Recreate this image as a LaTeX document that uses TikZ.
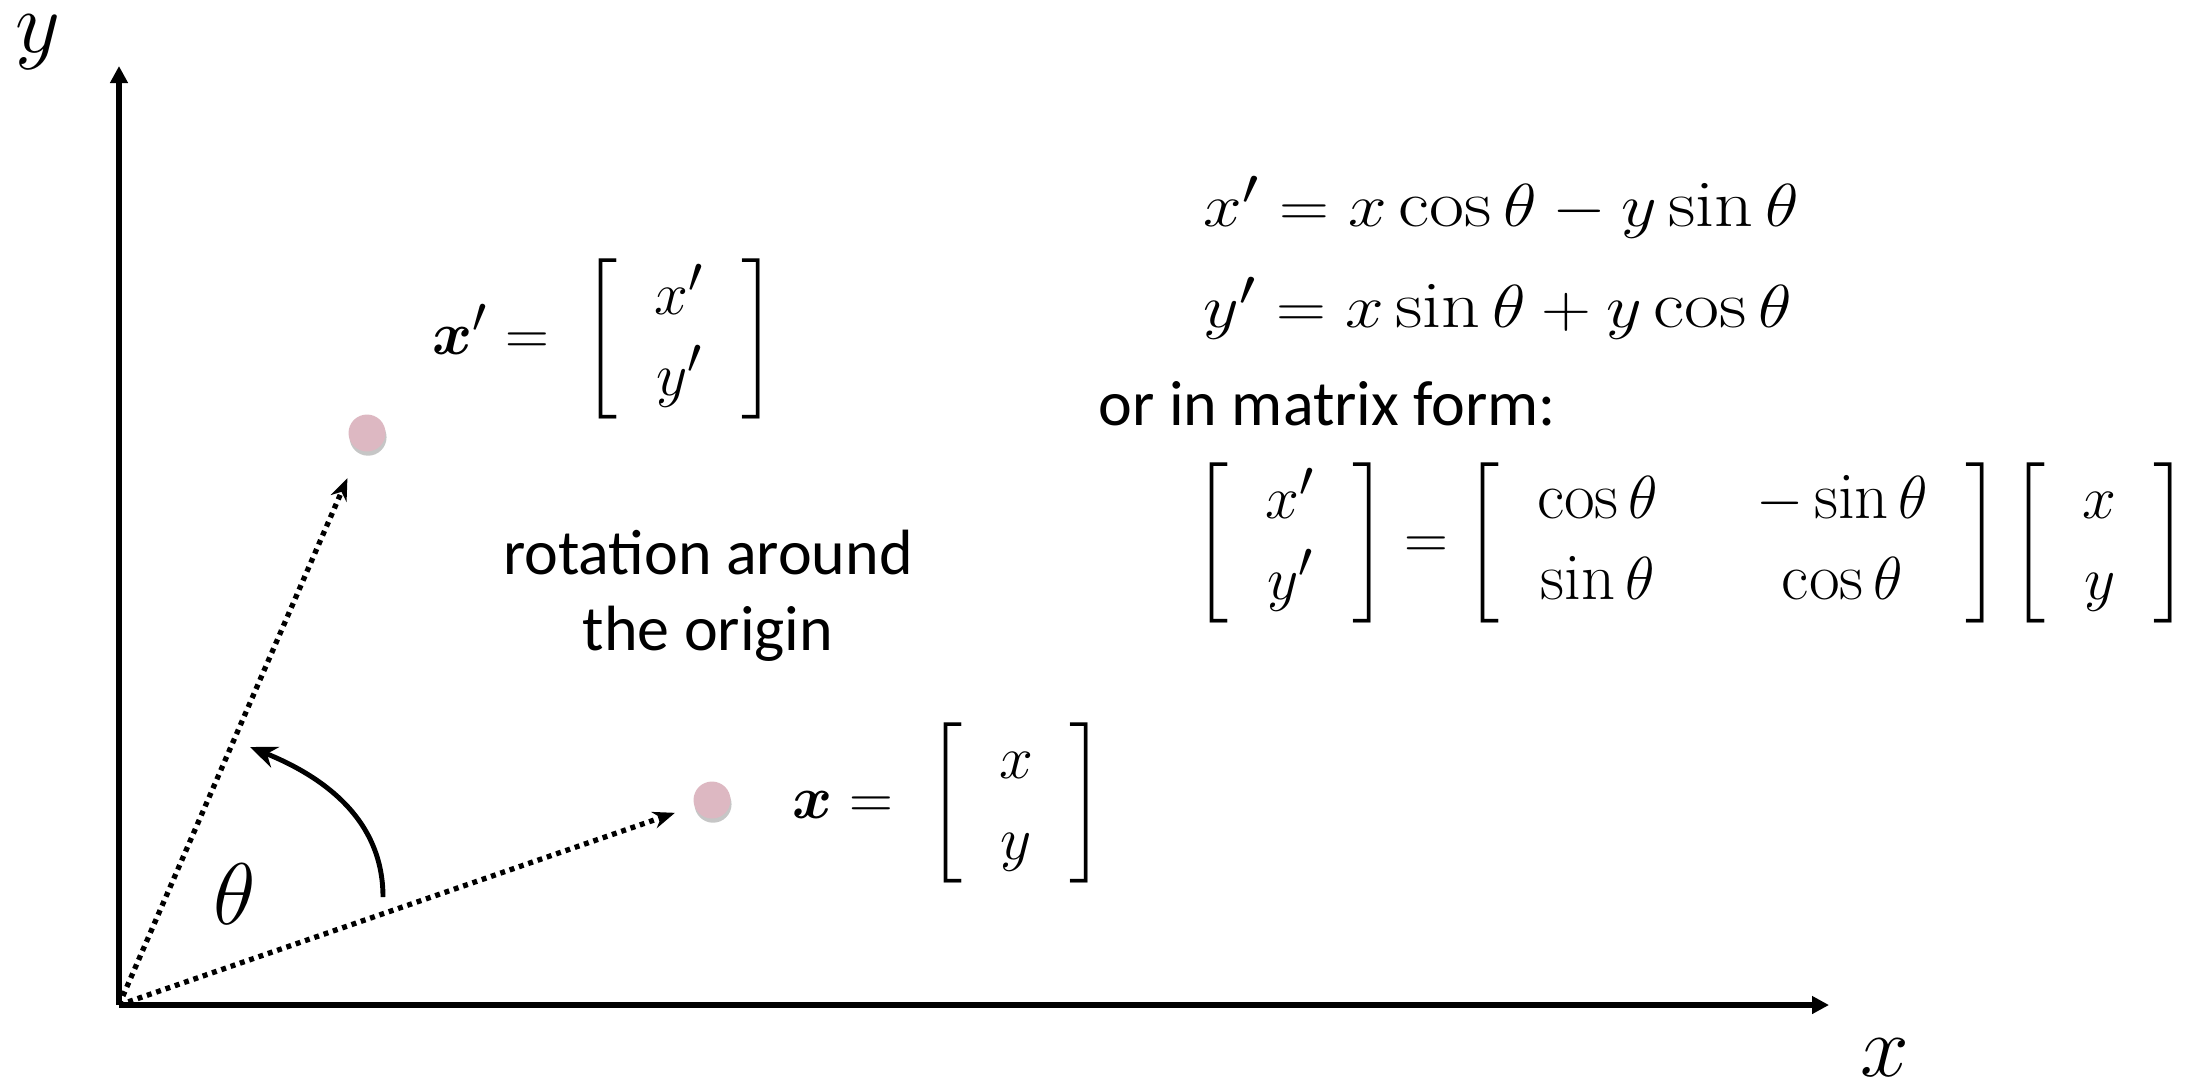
\documentclass[tikz,border=0pt]{standalone}
\usepackage{amsmath,amssymb,bm}
\usepackage{fontspec}
\newfontfamily\calfont{Carlito}
\usetikzlibrary{arrows.meta,shadows}
\definecolor{dotpink}{RGB}{221,184,194}
\setlength{\arraycolsep}{10.5pt}
\newcommand{\wideeq}[1]{\scalebox{1.14}[1]{$#1$}}

\begin{document}
\begin{tikzpicture}[
    >=Stealth,
    axis/.style={line width=1.5pt, -{Triangle[length=0.17cm,width=0.17cm]}},
    vec/.style={line width=1.5pt, dash pattern=on 1.4pt off 1.4pt, -{Stealth[length=0.22cm,width=0.17cm]}},
    turn/.style={line width=1.4pt, -{Stealth[length=0.27cm,width=0.22cm]}},
    pt/.style={circle, fill=dotpink, minimum size=0.37cm, inner sep=0pt,
      drop shadow={shadow xshift=0.3pt, shadow yshift=-1.2pt, opacity=0.45}},
    axlabel/.style={font=\fontsize{27}{32}\selectfont, inner sep=0pt},
    eqn/.style={font=\fontsize{19}{23}\selectfont, inner sep=0pt},
    txt/.style={font=\calfont\fontsize{18.2}{21.6}\selectfont, align=center, inner sep=0pt}
]
  \useasboundingbox (0,0) rectangle (21.98,10.84);

  % Axes
  \coordinate (O) at (1.19,0.79);
  \coordinate (ytip) at (1.19,10.18);
  \coordinate (xtip) at (18.29,0.79);
  \draw[axis] (O) -- (ytip);
  \draw[axis] (O) -- (xtip);
  \node[axlabel] (ylab) at (0.38,10.42) {$y$};
  \node[axlabel] (xlab) at (18.85,0.26) {$x$};

  % Points before and after the rotation
  \node[pt] (p) at (7.12,2.84) {};
  \node[pt] (pp) at (3.67,6.51) {};
  \draw[vec, shorten >=0.2cm] (O) -- (p);
  \draw[vec, shorten >=0.3cm] (O) -- (pp);

  % Angle
  \coordinate (arcstart) at (3.83,1.87);
  \coordinate (arcend) at (2.50,3.37);
  \draw[turn] (arcstart) to[out=90,in=-22] (arcend);
  \node[font=\fontsize{24}{28}\selectfont, inner sep=0pt] (theta) at (2.35,1.90) {$\theta$};

  % Vector labels
  \node[eqn, anchor=west] (plab) at (7.92,2.81)
    {$\boldsymbol{x} =\; \left[\begin{array}{c} x \\ y \end{array}\right]$};
  \node[eqn, anchor=west] (pplab) at (4.32,7.45)
    {$\boldsymbol{x}' =\; \left[\begin{array}{c} x' \\ y' \end{array}\right]$};
  \node[txt] (rot) at (7.08,4.88) {rotation around\\the origin};

  % Equations
  \node[eqn, anchor=west] (eq1) at (12.03,8.77) {\wideeq{x' = x\cos\theta - y\sin\theta}};
  \node[eqn, anchor=west] (eq2) at (12.03,7.76) {\wideeq{y' = x\sin\theta + y\cos\theta}};
  \node[txt, anchor=west] (form) at (10.98,6.80) {or in matrix form:};
  \node[eqn, anchor=west] (mat) at (11.93,5.41)
    {$\left[\begin{array}{c} x' \\ y' \end{array}\right] =
      \left[\begin{array}{c@{\hskip 28pt}c} \cos\theta & -\sin\theta \\ \sin\theta & \cos\theta \end{array}\right]
      \left[\begin{array}{c} x \\ y \end{array}\right]$};
\end{tikzpicture}
\end{document}
